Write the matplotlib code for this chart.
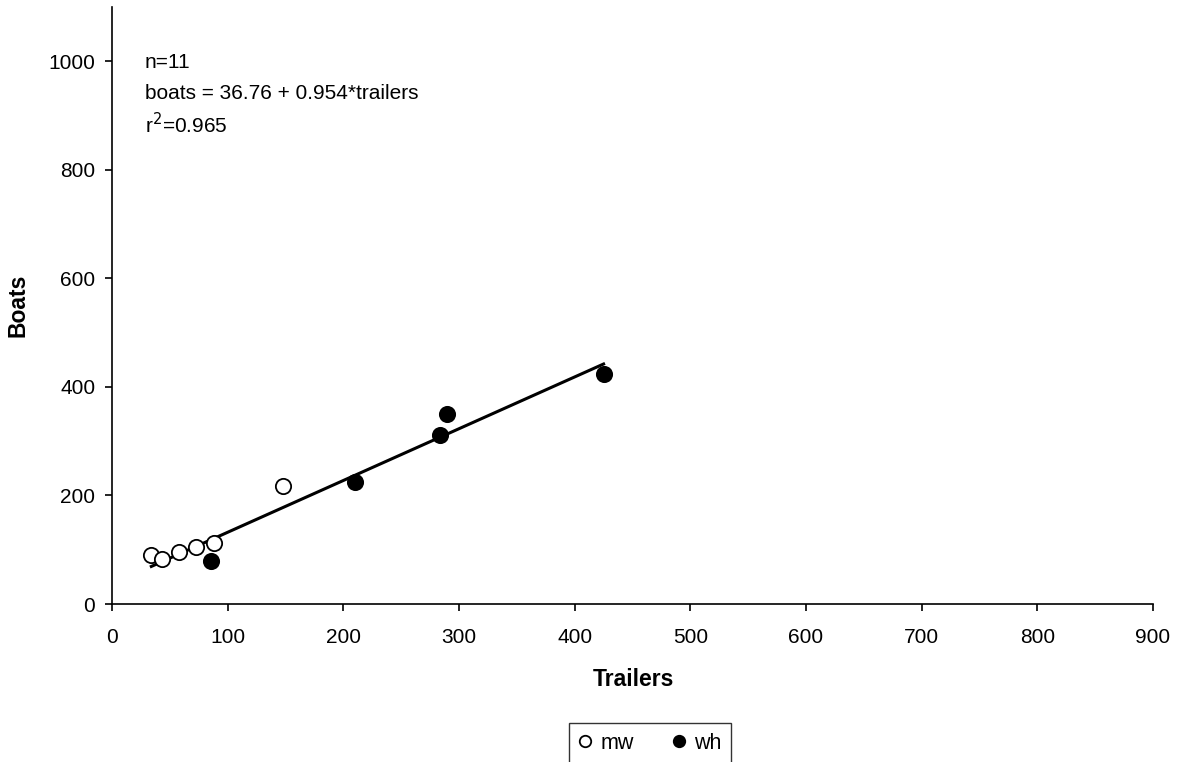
import matplotlib
matplotlib.use('Agg')
import matplotlib.pyplot as plt
import numpy as np

plt.rcParams['font.family'] = ['Liberation Sans', 'DejaVu Sans']

# trailers / boats counts per site group
mw_trailers = [34, 43, 58, 73, 88, 148]
mw_boats = [90, 82, 96, 105, 112, 218]
wh_trailers = [86, 210, 284, 290, 425]
wh_boats = [80, 224, 311, 350, 423]

intercept = 36.76
slope = 0.954

fig = plt.figure(figsize=(11.82, 7.62), dpi=100)
ax = fig.add_axes([112 / 1182, 1 - 604 / 762, (1153 - 112) / 1182, (604 - 7) / 762])

all_x = np.array(mw_trailers + wh_trailers)
fit_x = np.array([all_x.min(), all_x.max()])
ax.plot(fit_x, intercept + slope * fit_x, color='black', lw=2.2, zorder=2)

ax.plot(mw_trailers, mw_boats, 'o', ms=11, mfc='white', mec='black', mew=1.3,
        zorder=3, label='mw')
ax.plot(wh_trailers, wh_boats, 'o', ms=11, mfc='black', mec='black', mew=1.3,
        zorder=3, label='wh')

ax.set_xlim(0, 900)
ax.set_ylim(0, 1100)
ax.set_xticks(range(0, 901, 100))
ax.set_yticks(range(0, 1001, 200))
ax.spines['top'].set_visible(False)
ax.spines['right'].set_visible(False)
ax.spines['left'].set_linewidth(1.2)
ax.spines['bottom'].set_linewidth(1.2)
ax.tick_params(direction='out', length=5, width=1.2, labelsize=15)
ax.tick_params(axis='x', pad=12)
ax.tick_params(axis='y', pad=7)

ax.set_xlabel('Trailers', fontsize=16.5, fontweight='bold', va='center')
ax.xaxis.set_label_coords(0.501, -0.126)
ax.set_ylabel('Boats', fontsize=16.5, fontweight='bold', va='center')
ax.yaxis.set_label_coords(-0.09, 0.5)

stats = ['n=11', 'boats = 36.76 + 0.954*trailers', 'r$^2$=0.965']
for i, line in enumerate(stats):
    fig.text(145 / 1182, 1 - (62 + 31.5 * i) / 762, line, fontsize=15,
             va='center', ha='left')

leg = fig.legend(loc='lower left', bbox_to_anchor=(569 / 1182, -0.002),
                 ncol=2, fontsize=15.5, markerscale=0.75, frameon=True,
                 fancybox=False, edgecolor='black', handlelength=0.6,
                 handletextpad=0.4, columnspacing=1.8, borderpad=0.45,
                 borderaxespad=0)
leg.get_frame().set_linewidth(1.0)

fig.savefig('out.png', dpi=100)
